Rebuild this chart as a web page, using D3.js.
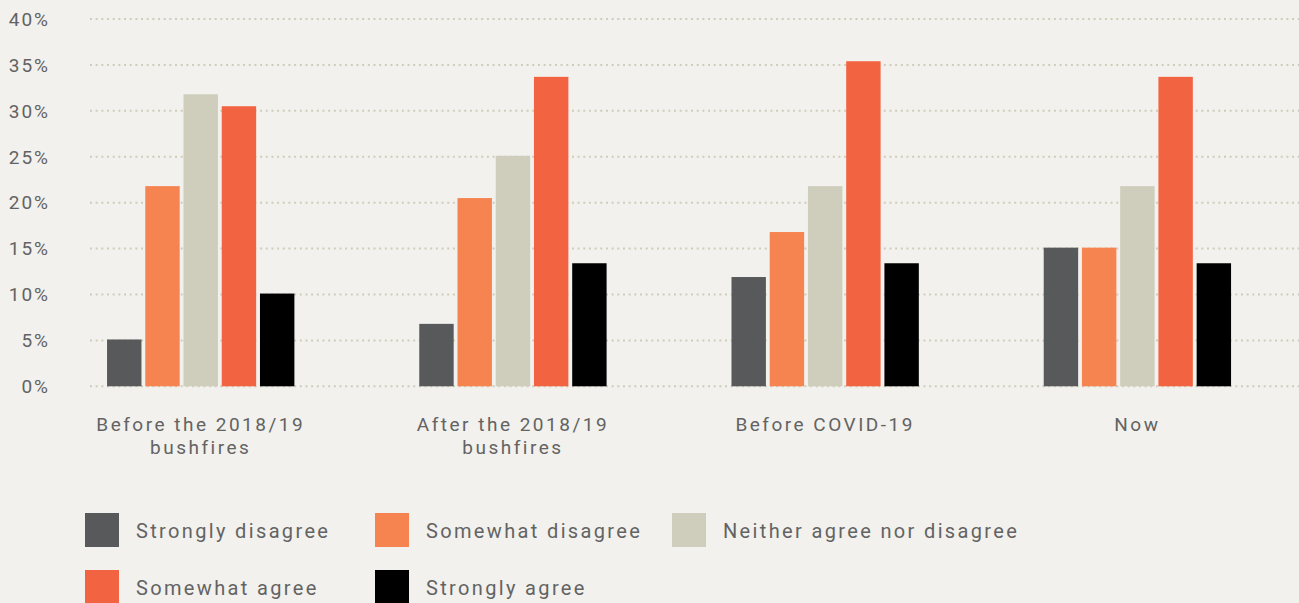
<!DOCTYPE html>
<html lang="en">
<head>
    <meta charset="UTF-8">
    <title>Survey chart</title>
    <script type="text/javascript" src="https://cdn.jsdelivr.net/npm/d3@7"></script>
    <style>
        html, body{
            margin: 0;
            padding: 0;
            background-color: #f2f1ed;
        }
        svg text{
            font-family: Roboto, sans-serif;
            fill: #636363;
            letter-spacing: 2px;
        }
        .grid line{
            stroke: #cfcdb9;
            stroke-width: 2;
            stroke-dasharray: 2 3.67;
        }
        .tick-label{
            font-size: 19px;
        }
        .cat-label{
            font-size: 19px;
            letter-spacing: 2.5px;
        }
        .legend text{
            font-size: 20px;
            letter-spacing: 2.35px;
        }
    </style>
</head>
<body>
<svg id="chart" width="1299" height="603"></svg>
<script type="text/javascript">
    var categories = [["Before the 2018/19", "bushfires"], ["After the 2018/19", "bushfires"], ["Before COVID-19"], ["Now"]];
    var series = ["Strongly disagree", "Somewhat disagree", "Neither agree nor disagree", "Somewhat agree", "Strongly agree"];
    var colors = ["#58595b", "#f58450", "#cfcdbb", "#f26341", "#000000"];
    // one array per series, values in % for each category
    var stronglyDisagree = [5.1, 6.8, 11.9, 15.1];
    var somewhatDisagree = [21.8, 20.5, 16.8, 15.1];
    var neither = [31.8, 25.1, 21.8, 21.8];
    var somewhatAgree = [30.5, 33.7, 35.4, 33.7];
    var stronglyAgree = [10.1, 13.4, 13.4, 13.4];
    var yTicks = [0, 5, 10, 15, 20, 25, 30, 35, 40];

    var values = [stronglyDisagree, somewhatDisagree, neither, somewhatAgree, stronglyAgree];

    var svg = d3.select("#chart");

    var y = d3.scaleLinear().domain([0, 40]).range([386.3, 19]);
    var x0 = d3.scaleBand()
            .domain(d3.range(categories.length))
            .range([44.6, 1293.5])
            .paddingInner(0.4)
            .paddingOuter(0.2);
    var x1 = d3.scaleBand()
            .domain(d3.range(series.length))
            .range([0, x0.bandwidth()])
            .paddingInner(0.1)
            .paddingOuter(0);

    // dotted gridlines
    svg.append("g").attr("class", "grid")
            .selectAll("line")
            .data(yTicks)
            .enter()
            .append("line")
            .attr("x1", 90)
            .attr("x2", 1299)
            .attr("y1", function(d){ return y(d); })
            .attr("y2", function(d){ return y(d); });

    svg.append("g")
            .selectAll("text")
            .data(yTicks)
            .enter()
            .append("text")
            .attr("class", "tick-label")
            .attr("x", 50)
            .attr("y", function(d){ return y(d); })
            .attr("dy", "0.36em")
            .attr("text-anchor", "end")
            .text(function(d){ return d + "%"; });

    // bars
    var groups = svg.append("g")
            .selectAll("g")
            .data(categories)
            .enter()
            .append("g")
            .attr("transform", function(d, i){ return "translate(" + x0(i) + ",0)"; });

    groups.selectAll("rect")
            .data(function(d, i){
                return values.map(function(s, j){ return {s: j, v: s[i]}; });
            })
            .enter()
            .append("rect")
            .attr("x", function(d){ return x1(d.s); })
            .attr("width", x1.bandwidth())
            .attr("y", function(d){ return y(d.v); })
            .attr("height", function(d){ return y(0) - y(d.v); })
            .attr("fill", function(d){ return colors[d.s]; });

    // category labels
    groups.append("text")
            .attr("class", "cat-label")
            .attr("text-anchor", "middle")
            .attr("x", x0.bandwidth() / 2)
            .attr("y", 431)
            .selectAll("tspan")
            .data(function(d){ return d; })
            .enter()
            .append("tspan")
            .attr("x", x0.bandwidth() / 2)
            .attr("dy", function(d, i){ return i == 0 ? 0 : 23; })
            .text(function(d){ return d; });

    // legend
    var legendX = [85, 375, 672];
    var legend = svg.append("g").attr("class", "legend")
            .selectAll("g")
            .data(series)
            .enter()
            .append("g")
            .attr("transform", function(d, i){
                return "translate(" + legendX[i % 3] + "," + (513 + Math.floor(i / 3) * 57) + ")";
            });
    legend.append("rect")
            .attr("width", 34)
            .attr("height", 34)
            .attr("fill", function(d, i){ return colors[i]; });
    legend.append("text")
            .attr("x", 51)
            .attr("y", 25)
            .text(function(d){ return d; });
</script>
</body>
</html>
